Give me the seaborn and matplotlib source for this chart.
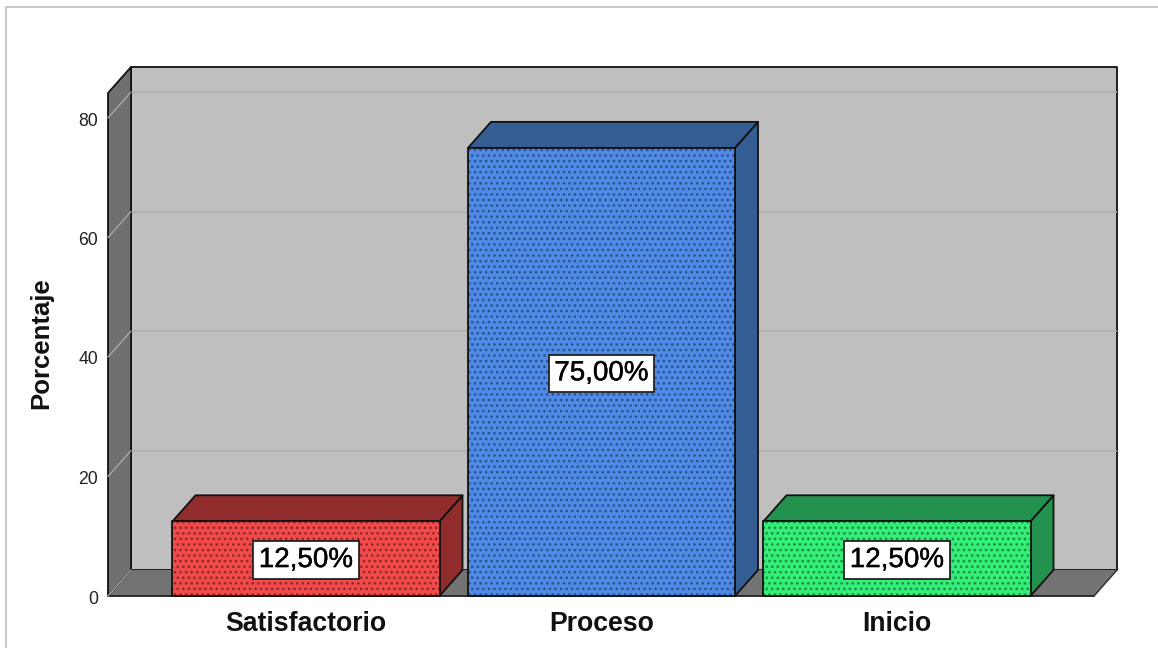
import matplotlib
matplotlib.use("Agg")
import matplotlib.pyplot as plt
from matplotlib.lines import Line2D
from matplotlib.patches import Polygon
from matplotlib.transforms import ScaledTranslation
import matplotlib.patheffects as pe
import pandas as pd
import seaborn as sns

categories = ["Satisfactorio", "Proceso", "Inicio"]
percentages = [12.5, 75.0, 12.5]
value_labels = ["12,50%", "75,00%", "12,50%"]
y_ticks = [0, 20, 40, 60, 80]

front_colors = ["#f24a4a", "#4f8ae6", "#33ee77"]
side_colors = ["#912c2c", "#345d94", "#24924f"]
dot_colors = ["#8a2a2a", "#2c528c", "#1f8a48"]

W, H = 1158, 648
dpi = 100

sns.set_theme(style="white")
plt.rcParams["font.family"] = ["Liberation Sans", "DejaVu Sans"]
plt.rcParams["hatch.linewidth"] = 1.1

df = pd.DataFrame({"cat": categories, "pct": percentages})

fig = plt.figure(figsize=(W / dpi, H / dpi), dpi=dpi)
# axes runs from the front-left floor corner to the back-right top corner
ax = fig.add_axes([108 / W, 1 - 596 / H, (1117 - 108) / W, (596 - 67) / H])

sns.barplot(data=df, x="cat", y="pct", hue="cat", order=categories, hue_order=categories,
            palette=front_colors, saturation=1, width=0.9036, dodge=False, legend=False,
            linewidth=0, zorder=5, ax=ax)

px_x = 295.5
x_min = 1 + (108 - 601.5) / px_x
x_max = 1 + (1117 - 601.5) / px_x
y_max = (596 - 67) / 5.975
ax.set_xlim(x_min, x_max)
ax.set_ylim(0, y_max)

dx = 23 / px_x
dy = 26 / 5.975
wall_top = y_max - dy
front_right = x_max - dx


def face(points, color, edge="none", lw=0, z=1):
    ax.add_patch(Polygon(points, closed=True, facecolor=color, edgecolor=edge, linewidth=lw,
                         joinstyle="round", zorder=z, clip_on=False))


# back wall, floor, left wall
face([(x_min + dx, dy), (x_max, dy), (x_max, y_max), (x_min + dx, y_max)], "#bfbfbf", "#111111", 1.3, 1)
face([(x_min, 0), (front_right, 0), (x_max, dy), (x_min + dx, dy)], "#737373", "none", 0, 1.5)
face([(x_min, 0), (x_min + dx, dy), (x_min + dx, y_max), (x_min, wall_top)], "#707070", "#111111", 1.3, 2)

ax.plot([x_min, front_right], [0, 0], color="#222222", lw=1.3, zorder=3, clip_on=False)
ax.plot([front_right, x_max], [0, dy], color="#333333", lw=1.1, zorder=3, clip_on=False)
ax.plot([x_min, x_min + dx], [0, dy], color="#a8a8a8", lw=1, zorder=3, clip_on=False)

# gridlines on the walls
for t in y_ticks[1:]:
    ax.plot([x_min + dx, x_max], [t + dy, t + dy], color="#b0b0b0", lw=1.2, zorder=1.2)
    ax.plot([x_min, x_min + dx], [t, t + dy], color="#a8a8a8", lw=1, zorder=3, clip_on=False)

# depth faces and labels for each bar
for bar, side, dots, label, val in zip(ax.patches, side_colors, dot_colors, value_labels, percentages):
    x0 = bar.get_x()
    x1 = x0 + bar.get_width()
    # the hatch takes the edge colour, so the black outline is a separate face
    bar.set_edgecolor(dots)
    bar.set_hatch("...")
    face([(x0, 0), (x1, 0), (x1, val), (x0, val)], "none", "#111111", 1.3, 6)
    face([(x1, 0), (x1 + dx, dy), (x1 + dx, val + dy), (x1, val)], side, "#111111", 1.3, 4)
    face([(x0, val), (x1, val), (x1 + dx, val + dy), (x0 + dx, val + dy)], side, "#111111", 1.3, 4)
    ax.annotate(label, ((x0 + x1) / 2, val / 2), xytext=(0, -1), textcoords="offset points",
                ha="center", va="center", fontsize=20, color="black", zorder=7,
                path_effects=[pe.withStroke(linewidth=0.3, foreground="black")],
                bbox=dict(boxstyle="square,pad=0.2", facecolor="white", edgecolor="#222222", linewidth=1.3))

ax.set_yticks(y_ticks)
ax.tick_params(axis="y", length=0, pad=7, labelsize=12.7, labelcolor="#222222")
ax.tick_params(axis="x", length=0, pad=11)
for lab in ax.get_yticklabels():
    lab.set_transform(lab.get_transform() + ScaledTranslation(0, -1 / dpi, fig.dpi_scale_trans))
for lab in ax.get_xticklabels():
    lab.set_fontsize(19.2)
    lab.set_fontweight("bold")
    lab.set_color("#111111")
ax.set_xlabel("")
ax.set_ylabel("Porcentaje", fontsize=18.5, fontweight="bold", color="#111111", labelpad=18, y=0.478)
sns.despine(ax=ax, left=True, bottom=True)

# thin frame of the original output window
fig.add_artist(Line2D([6 / W, 1], [1 - 7 / H, 1 - 7 / H], color="#c4c4c4", lw=1.3))
fig.add_artist(Line2D([6 / W, 6 / W], [0, 1 - 7 / H], color="#c4c4c4", lw=1.3))

fig.savefig("out.png", dpi=dpi, facecolor="white")
